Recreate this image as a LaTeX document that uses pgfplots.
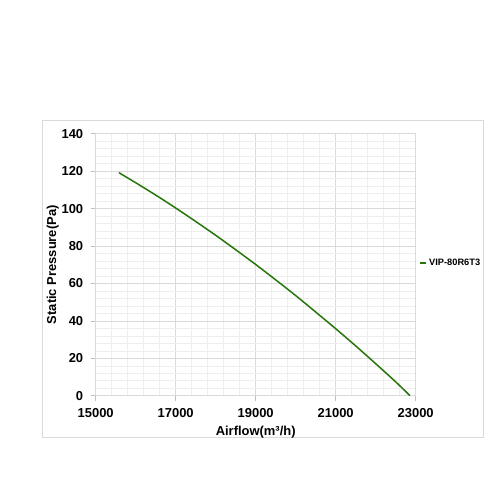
\documentclass[border=0pt]{standalone}
\usepackage{fontspec}
\setmainfont{Liberation Sans}
\usepackage{pgfplots}
\pgfplotsset{compat=1.18}
\definecolor{curve}{RGB}{38,118,10}
\definecolor{majgrid}{RGB}{218,218,218}
\definecolor{mingrid}{RGB}{238,238,238}
\begin{document}
\begin{tikzpicture}
\useasboundingbox[fill=white] (0,0) rectangle (500bp,500bp);
\draw[majgrid,line width=0.8bp] (42bp,63bp) rectangle (483bp,380bp);
\begin{axis}[
  at={(95.7bp,104.3bp)}, anchor=south west,
  scale only axis, width=320bp, height=262bp,
  xmin=15000, xmax=23000, ymin=0, ymax=140,
  xtick={15000,17000,...,23000}, ytick={0,20,...,140},
  minor x tick num=4, minor y tick num=4,
  grid=both,
  major grid style={majgrid,line width=0.6bp},
  minor grid style={mingrid,line width=0.5bp},
  axis line style={majgrid,line width=0.8bp},
  tick style={gray!50,line width=0.6bp},
  major tick length=5bp, minor tick length=0pt,
  tick pos=left, tick align=outside,
  scaled x ticks=false,
  /pgf/number format/assume math mode=true,
  /pgf/number format/1000 sep={},
  ticklabel style={font=\bfseries\fontsize{13}{15}\selectfont},
  xticklabel style={yshift=-4bp},
  yticklabel style={xshift=-4bp},
  xlabel={Airflow(m³/h)}, ylabel={Static Pressure(Pa)},
  label style={font=\bfseries\fontsize{13}{15}\selectfont},
  xlabel style={yshift=-2bp},
  ylabel style={yshift=-4bp},
  legend style={draw=none, fill=none, at={(1.012,0.506)}, anchor=west,
    font=\bfseries\fontsize{9.3}{11}\selectfont, inner sep=0pt},
  legend image code/.code={\draw[#1,line width=1.5bp] (0bp,0bp) -- (6bp,0bp);},
  legend cell align=left,
]
\addplot[curve, line width=1.5bp, smooth] coordinates {
(15580,119.2) (16000,113.8) (16500,107.2) (17000,100.3) (17500,93.1) (18000,85.7)
(18500,78.0) (19000,70.1) (19500,61.9) (20000,53.5) (20500,44.7) (21000,35.8)
(21500,26.6) (22000,17.1) (22500,7.4) (22858,0)};
\addlegendentry{VIP-80R6T3}
\end{axis}
\end{tikzpicture}
\end{document}
